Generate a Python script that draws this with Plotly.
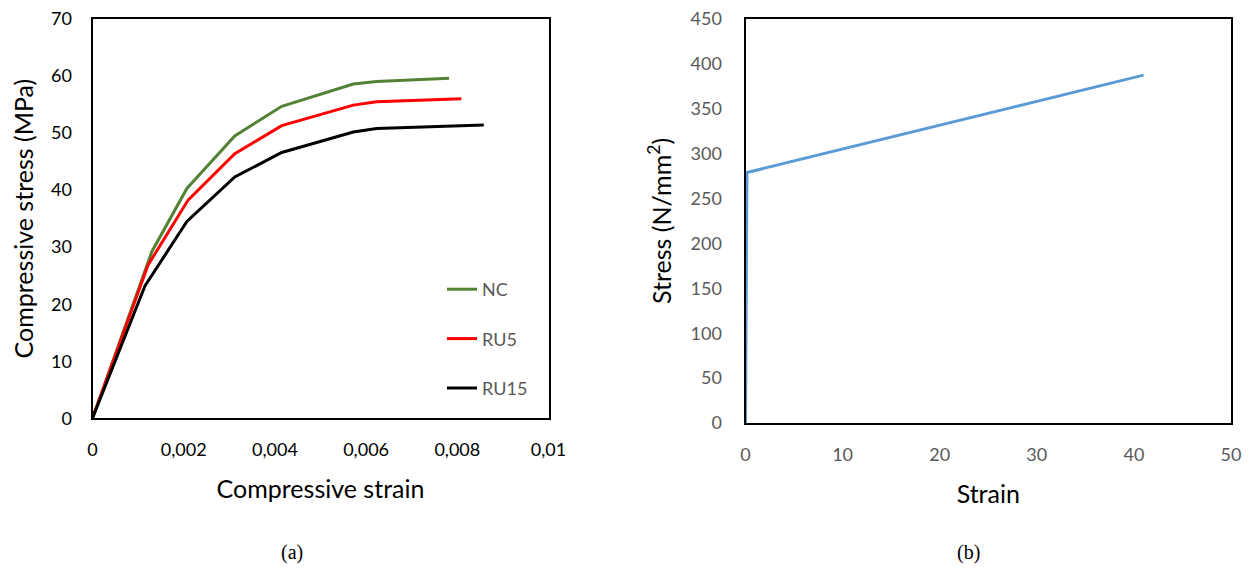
import plotly.graph_objects as go

# ---- data (a) compressive stress-strain of concrete ----
nc_strain = [0, 0.0013, 0.00207, 0.00312, 0.00415, 0.00572, 0.00623, 0.00782]
nc_stress = [0, 29.2, 40.3, 49.5, 54.7, 58.6, 59.05, 59.6]
ru5_strain = [0, 0.00122, 0.0021, 0.00312, 0.00415, 0.00572, 0.00623, 0.00809]
ru5_stress = [0, 26.9, 38.3, 46.4, 51.3, 54.9, 55.5, 56.0]
ru15_strain = [0, 0.00115, 0.00207, 0.00312, 0.00415, 0.00572, 0.00623, 0.00858]
ru15_stress = [0, 23.2, 34.5, 42.3, 46.6, 50.2, 50.8, 51.4]

# ---- data (b) steel stress-strain ----
steel_strain = [0, 0.15, 41.0]
steel_stress = [0, 279, 387.5]

FONT = "Lato"

fig = go.Figure()
fig.add_trace(go.Scatter(x=nc_strain, y=nc_stress, mode="lines", name="NC",
                         line=dict(color="#548235", width=3), legendgroup="a",
                         xaxis="x", yaxis="y"))
fig.add_trace(go.Scatter(x=ru5_strain, y=ru5_stress, mode="lines", name="RU5",
                         line=dict(color="#FF0000", width=3), legendgroup="b",
                         xaxis="x", yaxis="y"))
fig.add_trace(go.Scatter(x=ru15_strain, y=ru15_stress, mode="lines", name="RU15",
                         line=dict(color="#000000", width=3), legendgroup="c",
                         xaxis="x", yaxis="y"))
fig.add_trace(go.Scatter(x=steel_strain, y=steel_stress, mode="lines", name="Steel",
                         line=dict(color="#5B9BD5", width=3), showlegend=False,
                         xaxis="x2", yaxis="y2"))

W, H = 1255, 569
def px_x(p):
    return p / W
def px_y(p):
    return (H - p) / H

axis_common = dict(showgrid=False, zeroline=False, showline=True, linecolor="#000000",
                   linewidth=2, mirror=True, ticks="", automargin=False)

fig.update_layout(
    width=W, height=H,
    margin=dict(l=0, r=0, t=0, b=0),
    paper_bgcolor="white", plot_bgcolor="white",
    separators=",.",
    font=dict(family=FONT, color="#000000"),
    showlegend=True,
    legend=dict(x=px_x(442), y=px_y(271), xanchor="left", yanchor="top",
                bgcolor="rgba(0,0,0,0)", tracegroupgap=23,
                font=dict(family=FONT, size=18, color="#595959")),
    xaxis=dict(domain=[px_x(92.5), px_x(548.5)], range=[0, 0.01], dtick=0.002,
               tickfont=dict(size=18, color="#000000"), anchor="y", ticklabelstandoff=14,
               title=dict(text="Compressive strain", font=dict(size=25, color="#000000"),
                          standoff=22),
               **axis_common),
    yaxis=dict(domain=[px_y(418.3), px_y(19)], range=[0, 70], dtick=10,
               tickfont=dict(size=18, color="#000000"), anchor="x", ticklabelstandoff=15,
               title=dict(text="Compressive stress (MPa)", font=dict(size=25, color="#000000"),
                          standoff=10),
               **axis_common),
    xaxis2=dict(domain=[px_x(745.5), px_x(1231)], range=[0, 50], dtick=10,
                tickfont=dict(size=18, color="#595959"), anchor="y2", ticklabelstandoff=14,
                title=dict(text="Strain", font=dict(size=25, color="#000000"), standoff=22),
                **axis_common),
    yaxis2=dict(domain=[px_y(423), px_y(19)], range=[0, 450], dtick=50,
                tickfont=dict(size=18, color="#595959"), anchor="x2", ticklabelstandoff=18,
                title=dict(text="Stress (N/mm<sup>2</sup>)", font=dict(size=25, color="#000000"),
                           standoff=12),
                **axis_common),
    annotations=[
        dict(text="(a)", x=px_x(292), y=px_y(552), xref="paper", yref="paper",
             showarrow=False, xanchor="center", yanchor="middle",
             font=dict(family="Liberation Serif", size=20, color="#000000")),
        dict(text="(b)", x=px_x(968), y=px_y(552), xref="paper", yref="paper",
             showarrow=False, xanchor="center", yanchor="middle",
             font=dict(family="Liberation Serif", size=20, color="#000000")),
    ],
)

fig.write_html("out.html")
